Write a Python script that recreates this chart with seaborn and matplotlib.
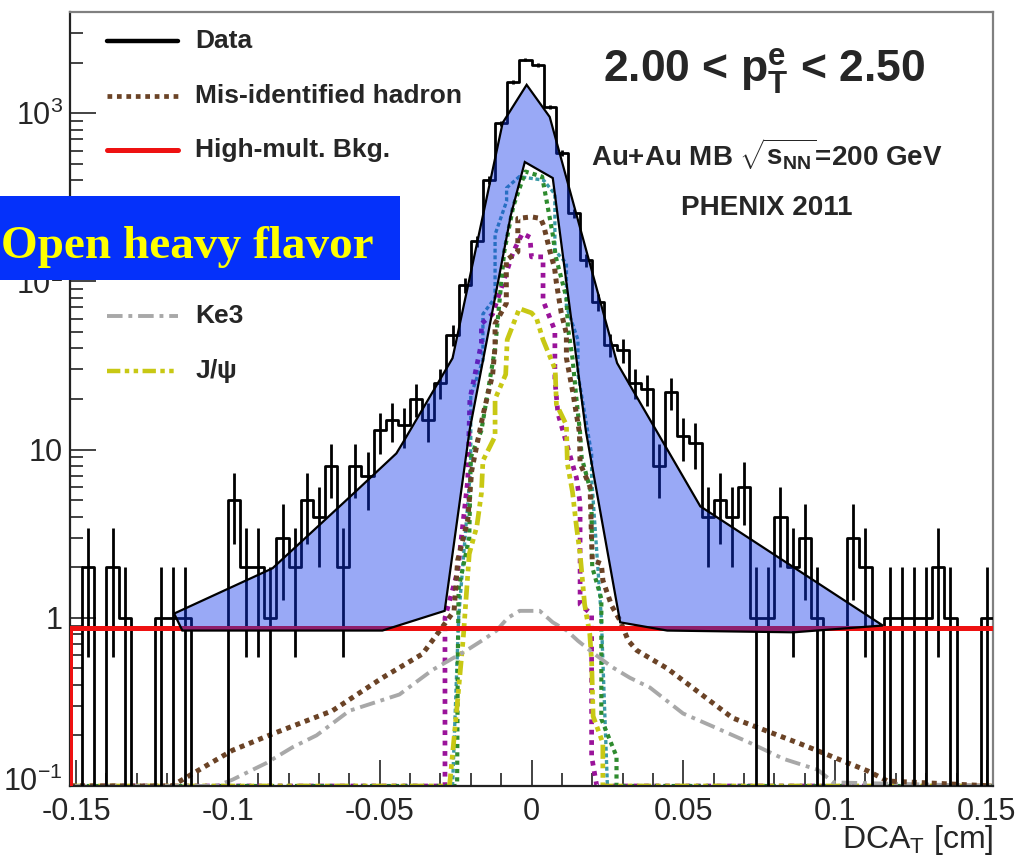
import numpy as np
import pandas as pd
import matplotlib
matplotlib.use("Agg")
import matplotlib.pyplot as plt
import matplotlib.transforms as mtransforms
import seaborn as sns
from matplotlib.patches import Polygon, Rectangle
from matplotlib.ticker import FixedLocator, FixedFormatter, MultipleLocator, LogLocator, NullFormatter

# ---------------- data ----------------
dca_range = (-0.152, 0.152)
n_bins = 76
data_counts = [0, 2, 0, 2, 1, 0, 0, 1, 1, 1, 0, 0, 0, 5, 2, 2, 1, 3, 2, 5,
               4, 8, 2, 8, 7, 13, 15, 14, 20, 15, 25, 48, 95, 174, 401, 872, 1542, 2077, 1940, 1094,
               578, 254, 134, 75, 42, 39, 25, 23, 8, 22, 12, 11, 4, 5, 4, 6, 1, 1, 4, 2,
               3, 1, 0, 0, 3, 2, 0, 1, 1, 1, 1, 2, 1, 0, 0, 1]

highmult_x = [-0.152, 0.152]
highmult_level = 0.875

misid_x = [-0.152, -0.1185, -0.0985, -0.0853, -0.0656, -0.0491, -0.0359, -0.0300, -0.0255, -0.0243,
           -0.0210, -0.0197, -0.0160, -0.0128, -0.0120, -0.0120, -0.0083, -0.0083, -0.0045, -0.0045,
           0.0000, 0.0030, 0.0040, 0.0060, 0.0076, 0.0082, 0.0098, 0.0115, 0.0115, 0.0136,
           0.0158, 0.0160, 0.0193, 0.0197, 0.0200, 0.0230, 0.0235, 0.0264, 0.0292, 0.0319,
           0.0347, 0.0447, 0.0662, 0.0886, 0.1107, 0.1173, 0.152]
misid_y = [0.1, 0.1, 0.163, 0.204, 0.28, 0.44, 0.61, 0.85, 1.1, 2.2,
           3.8, 7.5, 16, 28, 41, 56, 74, 134, 150, 237,
           242, 237, 215, 153, 120, 98, 65, 49, 35, 22,
           12.6, 8.3, 6.0, 3.3, 2.2, 2.1, 1.67, 1.18, 0.96, 0.73,
           0.64, 0.50, 0.254, 0.178, 0.123, 0.107, 0.1]

ke3_x = [-0.152, -0.1038, -0.0985, -0.0873, -0.0787, -0.0708, -0.0600, -0.0435, -0.0326, -0.0214,
         -0.0154, -0.0115, -0.0078, -0.0039, 0.0027, 0.0070, 0.0116, 0.0153, 0.0202, 0.0265,
         0.0324, 0.0390, 0.0499, 0.0612, 0.0721, 0.0830, 0.0942, 0.0995, 0.152]
ke3_y = [0.1, 0.1, 0.109, 0.137, 0.17, 0.20, 0.28, 0.35, 0.49, 0.64,
         0.75, 0.84, 1.0, 1.1, 1.1, 0.94, 0.84, 0.73, 0.62, 0.51,
         0.44, 0.385, 0.27, 0.22, 0.18, 0.145, 0.125, 0.105, 0.1]

jpsi_x = [-0.152, -0.0270, -0.0245, -0.0225, -0.0205, -0.0180, -0.0165, -0.0160, -0.0120, -0.0120,
          -0.0085, -0.0080, -0.0040, 0.0000, 0.0017, 0.0038, 0.0078, 0.0082, 0.0115, 0.0118,
          0.0135, 0.0148, 0.0160, 0.0175, 0.0192, 0.0198, 0.0203, 0.0235, 0.0235, 0.152]
jpsi_y = [0.1, 0.1, 0.30, 0.75, 2.4, 3.5, 5.5, 8.6, 12, 20,
          28, 45, 69, 65, 60, 45, 30, 18.6, 14, 8.3,
          5.6, 3.5, 2.4, 1.2, 0.8, 0.55, 0.26, 0.18, 0.1, 0.1]

green_x = [-0.152, -0.0245, -0.0243, -0.0240, -0.0205, -0.0200, -0.0165, -0.0120, -0.0090, -0.0060,
           -0.0020, 0.0035, 0.0050, 0.0070, 0.0080, 0.0115, 0.0120, 0.0135, 0.0148, 0.0160,
           0.0165, 0.0197, 0.0200, 0.0230, 0.0230, 0.0280, 0.0280, 0.152]
green_y = [0.1, 0.1, 0.5, 1.5, 3.0, 9, 13, 40, 150, 280,
           450, 420, 300, 190, 140, 80, 53, 35, 20, 12.6,
           9, 5.5, 2.0, 1.3, 0.25, 0.15, 0.1, 0.1]

purple_x = [-0.152, -0.0285, -0.0285, -0.0243, -0.0210, -0.0203, -0.0165, -0.0165, -0.0128, -0.0060,
            -0.0030, -0.0005, 0.0000, 0.0038, 0.0038, 0.0077, 0.0077, 0.0087, 0.0148, 0.0160,
            0.0160, 0.0198, 0.0198, 0.0215, 0.152]
purple_y = [0.1, 0.1, 1.0, 1.9, 6.6, 20, 43, 56, 64, 150,
            193, 183, 140, 140, 77, 51, 26, 16.4, 6.8, 4.8,
            1.2, 1.05, 0.15, 0.1, 0.1]

teal_x = [-0.0260, -0.0240, -0.0200, -0.0200, -0.0160, -0.0160, -0.0120, -0.0120, -0.0082, -0.0082,
          -0.0040, 0.0040, 0.0077, 0.0077, 0.0115, 0.0115, 0.0153, 0.0153, 0.0198, 0.0198,
          0.0230, 0.0250]
teal_y = [0.1, 1.0, 8, 21, 34, 64, 80, 190, 300, 360,
          420, 400, 330, 153, 128, 71, 45, 28, 9.4, 6.8,
          1.0, 0.1]

# "Open heavy flavor" band (hand-drawn annotation), vertices in data units
ohf_x = [-0.1177, -0.0853, -0.0600, -0.0445, -0.0425, -0.0260, -0.0095, -0.0016, 0.0060, 0.0282,
         0.0556, 0.1157, 0.0863, 0.0447, 0.0292, 0.0179, 0.0070, -0.0022, -0.0068, -0.0204,
         -0.0286, -0.0491, -0.1150]
ohf_y = [1.06, 1.97, 5.2, 9.5, 10.9, 35, 877, 1476, 951, 32.7,
         4.6, 0.90, 0.82, 0.84, 0.94, 12.9, 412, 513, 248, 13.0,
         1.1, 0.84, 0.84]

xtick_vals = [-0.15, -0.1, -0.05, 0, 0.05, 0.1, 0.15]
xtick_labels = ["-0.15", "-0.1", "-0.05", "0", "0.05", "0.1", "0.15"]
ytick_vals = [0.1, 1, 10, 100, 1000]
ytick_labels = [r"$10^{-1}$", "1", "10", r"$10^{2}$", r"$10^{3}$"]

# ---------------- style ----------------
sns.set_style("ticks")
plt.rcParams["font.family"] = ["Liberation Sans", "DejaVu Sans"]
plt.rcParams["mathtext.fontset"] = "custom"
plt.rcParams["mathtext.rm"] = "Liberation Sans"
plt.rcParams["mathtext.bf"] = "Liberation Sans:bold"
plt.rcParams["mathtext.it"] = "Liberation Sans:italic"
plt.rcParams["mathtext.sf"] = "Liberation Sans"

W, H = 1019, 855
fig = plt.figure(figsize=(W / 100, H / 100), dpi=100)
ax = fig.add_axes([70 / W, 1 - 786 / H, 923 / W, 774 / H])

def axx(px):
    return (px - 70) / 923.0

def axy(py):
    return (786 - py) / 774.0

edges = np.linspace(dca_range[0], dca_range[1], n_bins + 1)
centers = 0.5 * (edges[:-1] + edges[1:])
counts = np.array(data_counts, dtype=float)
df = pd.DataFrame({"dca": centers, "counts": counts})

# components
comp_styles = [
    (teal_x, teal_y, "#3A9AA6", (0, (1.2, 0.8)), 2.4),
    (purple_x, purple_y, "#9A139A", (0, (1, 1.2)), 3.4),
    (green_x, green_y, "#2E8B2E", (0, (1, 1)), 3.0),
    (jpsi_x, jpsi_y, "#C8C814", (0, (3, 1, 1, 1, 1, 1)), 3.4),
    (ke3_x, ke3_y, "#A8A8A8", (0, (4, 1.5, 1, 1.5)), 2.8),
    (misid_x, misid_y, "#6B4326", (0, (1, 1)), 3.6),
]
for cx, cy, col, ls, lw in comp_styles:
    sns.lineplot(x=cx, y=cy, sort=False, estimator=None, color=col, linestyle=ls,
                 linewidth=lw, ax=ax, zorder=2)

# data histogram
sns.histplot(data=df, x="dca", weights="counts", bins=n_bins, binrange=dca_range,
             element="step", fill=False, color="black", linewidth=2.0, ax=ax, zorder=3)
nz = counts > 0
ax.errorbar(centers[nz], counts[nz], yerr=np.sqrt(counts[nz]), fmt="none", ecolor="black",
            elinewidth=2.0, capsize=0, zorder=3)

# high-multiplicity background
sns.lineplot(x=[highmult_x[0], highmult_x[0], highmult_x[1]], y=[0, highmult_level, highmult_level],
             sort=False, estimator=None, color="#EE1111", linewidth=3.6, ax=ax, zorder=4)

# open heavy flavor band
ax.add_patch(Polygon(np.column_stack([ohf_x, ohf_y]), closed=True,
                     facecolor=(0.05, 0.2, 0.92, 0.42), edgecolor="black", linewidth=1.6, zorder=6))

ax.set_yscale("log")
ax.set_xlim(dca_range)
ax.set_ylim(0.1, 4000)

# ticks
ax.xaxis.set_major_locator(FixedLocator(xtick_vals))
ax.xaxis.set_major_formatter(FixedFormatter(xtick_labels))
ax.xaxis.set_minor_locator(MultipleLocator(0.01))
ax.yaxis.set_major_locator(FixedLocator(ytick_vals))
ax.yaxis.set_major_formatter(FixedFormatter(ytick_labels))
ax.yaxis.set_minor_locator(LogLocator(base=10, subs=np.arange(2, 10)))
ax.yaxis.set_minor_formatter(NullFormatter())
ax.tick_params(which="major", direction="in", length=19, width=1.2, color="#222222",
               top=False, right=False)
ax.tick_params(which="minor", direction="in", length=9.5, width=1.2, color="#222222",
               top=False, right=False)
ax.tick_params(axis="x", which="major", labelsize=22, pad=8)
ax.tick_params(axis="y", which="major", labelsize=22, pad=5)

for side in ["left", "bottom"]:
    ax.spines[side].set_color("#222222")
    ax.spines[side].set_linewidth(1.6)
for side in ["top", "right"]:
    ax.spines[side].set_color("#808080")
    ax.spines[side].set_linewidth(1.6)

# lift the lowest y label slightly (as in the ROOT original) so it clears the x labels
fig.canvas.draw()
low_lab = ax.yaxis.get_major_ticks()[0].label1
low_lab.set_transform(low_lab.get_transform() +
                      mtransforms.ScaledTranslation(0, 5 / 72, fig.dpi_scale_trans))

ax.set_ylabel("")
ax.set_xlabel(r"DCA$_{\mathrm{T}}$ [cm]", fontsize=23)
ax.xaxis.label.set_ha("right")
ax.xaxis.label.set_va("baseline")
ax.xaxis.set_label_coords(1.0, axy(848))

# legend (manual, ROOT style)
legend_items = [
    (41, "Data", "black", "-", 3.2),
    (96, "Mis-identified hadron", "#6B4326", (0, (1, 1)), 3.4),
    (150, "High-mult. Bkg.", "#EE1111", "-", 3.6),
    (316, "Ke3", "#A8A8A8", (0, (4, 1.5, 1, 1.5)), 2.8),
    (371, r"J/$\mathbf{\psi}$", "#C8C814", (0, (3, 1, 1, 1, 1, 1)), 3.2),
]
for py, lab, col, ls, lw in legend_items:
    ax.plot([axx(107), axx(178)], [axy(py), axy(py)], transform=ax.transAxes, color=col,
            linestyle=ls, linewidth=lw, clip_on=False, zorder=7)
    ax.text(axx(195), axy(py), lab, transform=ax.transAxes, ha="left", va="center",
            fontsize=19, fontweight="bold", zorder=7)

# labels top-right
ax.text(axx(764), axy(82), r"2.00 < $\mathbf{p}_{\mathbf{T}}^{\mathbf{e}}$ < 2.50",
        transform=ax.transAxes, ha="center", va="baseline", fontsize=32, fontweight="bold")
ax.text(axx(767), axy(165), r"Au+Au MB $\sqrt{\mathbf{s}_{\mathbf{NN}}}$=200 GeV",
        transform=ax.transAxes, ha="center", va="baseline", fontsize=20, fontweight="bold")
ax.text(axx(767), axy(215), "PHENIX 2011", transform=ax.transAxes, ha="center",
        va="baseline", fontsize=20, fontweight="bold")

# overlay banner
fig.add_artist(Rectangle((0, 1 - 280 / H), 400 / W, 84 / H, transform=fig.transFigure,
                         facecolor="#0531FA", edgecolor="none", zorder=20))
fig.text(1 / W, 1 - 258 / H, "Open heavy flavor", fontsize=34, fontweight="bold",
         family=["Liberation Serif", "DejaVu Serif"], color="#FFFF00", ha="left",
         va="baseline", zorder=21)

fig.savefig("out.png", dpi=100)
